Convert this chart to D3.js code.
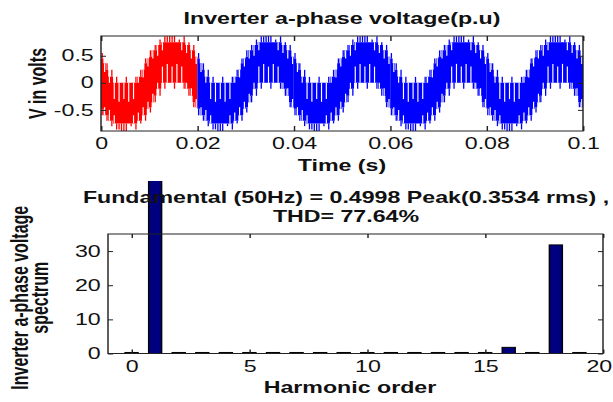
<!DOCTYPE html>
<html><head><meta charset="utf-8">
<script src="https://cdn.jsdelivr.net/npm/d3@7"></script>
<style>
html,body{margin:0;padding:0;background:#fff;}
svg{display:block;}
text{font-family:"Liberation Sans",Arial,sans-serif;fill:#111;}
</style></head>
<body>
<svg id="c" width="613" height="402"></svg>
<script>
// ---------------- data ----------------
// Top panel: one 20 ms cycle of the multilevel PWM waveform, read in 0.5 ms steps
const stepMs = 0.5;
const cycleMs = 20;
const cycleCount = 5;
const cycleColors = ["#ff0000", "#0000ff", "#0000ff", "#0000ff", "#0000ff"];
const upperEnv = [0.45,0.36,0.24,0.11,0.11,0,0,0,0,0,0,0,0,0,0,0.11,0.11,0.24,0.36,0.45,
                  0.48,0.6,0.6,0.7,0.7,0.75,0.75,0.75,0.75,0.75,0.75,0.75,0.75,0.75,0.75,0.7,0.7,0.6,0.6,0.48];
const lowerEnv = [-0.48,-0.6,-0.6,-0.7,-0.7,-0.75,-0.75,-0.75,-0.75,-0.75,-0.75,-0.75,-0.75,-0.75,-0.75,-0.7,-0.7,-0.6,-0.6,-0.48,
                  -0.45,-0.36,-0.24,-0.11,-0.11,0,0,0,0,0,0,0,0,0,0,-0.11,-0.11,-0.24,-0.36,-0.45];
const spikeHigh = [0.55,null,0.36,null,0.24,null,0.11,null,null,null,0.11,null,null,null,0.11,null,0.24,null,0.45,null,
                   0.6,null,0.7,null,0.8,null,0.86,0.86,0.92,0.92,0.92,null,0.8,null,0.86,null,0.75,null,0.7,null];
const spikeLow = [-0.6,null,-0.7,null,-0.8,null,-0.86,-0.86,-0.92,-0.92,-0.92,null,-0.8,null,-0.86,null,-0.75,null,-0.7,null,
                  -0.55,null,-0.36,null,-0.24,null,-0.11,null,null,null,-0.11,null,null,null,-0.11,null,-0.24,null,-0.45,null];
const notchDown = [null,0.2,null,0,null,-0.3,null,-0.35,null,-0.3,null,-0.35,null,-0.3,null,0,null,0.1,null,0.3,
                   null,0.45,null,0.5,null,0.6,null,null,null,null,null,null,null,0.6,null,0.55,null,0.45,null,0.35];
const notchUp = [null,-0.45,null,-0.5,null,-0.6,null,null,null,null,null,null,null,-0.6,null,-0.55,null,-0.45,null,-0.35,
                 null,-0.2,null,0,null,0.3,null,0.35,null,0.3,null,0.35,null,0.3,null,0,null,-0.1,null,-0.3];
const timeTicks = [0, 0.02, 0.04, 0.06, 0.08, 0.1];
const timeTickLabels = ["0", "0.02", "0.04", "0.06", "0.08", "0.1"];
const voltTicks = [-0.5, 0, 0.5];
const voltTickLabels = ["-0.5", "0", "0.5"];

// Bottom panel: harmonic spectrum (% of fundamental)
const harmonicOrder = [0,1,2,3,4,5,6,7,8,9,10,11,12,13,14,15,16,17,18,19];
const harmonicMag = [0.3,100,0.3,0.3,0.3,0.3,0.3,0.3,0.3,0.3,0.3,0.3,0.3,0.3,0.3,0.3,1.8,0.3,31.8,0.3];
const harmTicks = [0, 5, 10, 15, 20];
const specTicks = [0, 10, 20, 30];
const fundamentalVisibleTop = 50.5;

const topTitle = "Inverter a-phase voltage(p.u)";
const topYLabel = "V in volts";
const topXLabel = "Time (s)";
const botTitle = ["Fundamental (50Hz) = 0.4998 Peak(0.3534 rms) ,", "THD= 77.64%"];
const botYLabel = ["Inverter a-phase voltage", "spectrum"];
const botXLabel = "Harmonic order";

// ---------------- layout ----------------
const S = 1.45; // horizontal stretch of the whole figure
const svg = d3.select("#c");
const g = svg.append("g").attr("transform", `scale(${S},1)`);

const xT = d3.scaleLinear().domain([0, 0.1]).range([101 / S, 583 / S]);
const yV = d3.scaleLinear().domain([-0.89, 0.865]).range([131, 36]);
const xH = d3.scaleLinear().domain([-1, 20]).range([108 / S, 603 / S]);
const yH = d3.scaleLinear().domain([0, 35]).range([353.5, 234]);

const FS = 16;
function styleAxis(sel) {
  sel.select(".domain").remove();
  sel.selectAll(".tick line").attr("stroke", "#222").attr("stroke-width", 1);
  sel.selectAll("text").attr("font-size", FS).attr("fill", "#111")
     .attr("font-family", '"Liberation Sans",Arial,sans-serif');
}

// ---------- top panel ----------
const defs = svg.append("defs");
defs.append("clipPath").attr("id", "clipTop").append("rect")
  .attr("x", xT(0)).attr("y", yV(0.865)).attr("width", xT(0.1) - xT(0)).attr("height", yV(-0.89) - yV(0.865));

const wave = g.append("g").attr("clip-path", "url(#clipTop)");
const stepS = stepMs / 1000;
for (let p = 0; p < cycleCount; p++) {
  const col = cycleColors[p];
  const base = p * cycleMs / 1000;
  const pts = upperEnv.map((u, k) => ({t: base + k * stepS, u, l: lowerEnv[k]}));
  pts.push({t: base + cycleMs / 1000, u: upperEnv[upperEnv.length - 1], l: lowerEnv[lowerEnv.length - 1]});
  const area = d3.area().curve(d3.curveStepAfter)
    .x(d => xT(d.t)).y0(d => yV(d.l)).y1(d => yV(d.u));
  wave.append("path").attr("d", area(pts)).attr("fill", col).attr("stroke", "none");
  upperEnv.forEach((u, k) => {
    const tc = base + (k + 0.5) * stepS;
    const x = xT(tc);
    if (notchDown[k] !== null) wave.append("line").attr("x1", x).attr("x2", x)
      .attr("y1", yV(u)).attr("y2", yV(notchDown[k])).attr("stroke", "#fff").attr("stroke-width", 0.8);
    if (notchUp[k] !== null) wave.append("line").attr("x1", x).attr("x2", x)
      .attr("y1", yV(lowerEnv[k])).attr("y2", yV(notchUp[k])).attr("stroke", "#fff").attr("stroke-width", 0.8);
    if (spikeHigh[k] !== null) wave.append("line").attr("x1", x).attr("x2", x)
      .attr("y1", yV(u)).attr("y2", yV(spikeHigh[k])).attr("stroke", col).attr("stroke-width", 0.9);
    if (spikeLow[k] !== null) wave.append("line").attr("x1", x).attr("x2", x)
      .attr("y1", yV(lowerEnv[k])).attr("y2", yV(spikeLow[k])).attr("stroke", col).attr("stroke-width", 0.9);
  });
}

// axes top panel
const axB = g.append("g").attr("transform", `translate(0,${yV(-0.89)})`)
  .call(d3.axisBottom(xT).tickValues(timeTicks).tickFormat((d, i) => timeTickLabels[i]).tickSizeInner(-5).tickSizeOuter(0).tickPadding(7));
styleAxis(axB);
const axT = g.append("g").attr("transform", `translate(0,${yV(0.865)})`)
  .call(d3.axisTop(xT).tickValues(timeTicks).tickFormat("").tickSizeInner(-5).tickSizeOuter(0));
styleAxis(axT);
const axL = g.append("g").attr("transform", `translate(${xT(0)},0)`)
  .call(d3.axisLeft(yV).tickValues(voltTicks).tickFormat((d, i) => voltTickLabels[i]).tickSizeInner(-5 / S).tickSizeOuter(0).tickPadding(5));
styleAxis(axL);
const axR = g.append("g").attr("transform", `translate(${xT(0.1)},0)`)
  .call(d3.axisRight(yV).tickValues(voltTicks).tickFormat("").tickSizeInner(-5 / S).tickSizeOuter(0));
styleAxis(axR);
g.append("rect").attr("x", xT(0)).attr("y", yV(0.865)).attr("width", xT(0.1) - xT(0)).attr("height", yV(-0.89) - yV(0.865))
  .attr("fill", "none").attr("stroke", "#222").attr("stroke-width", 1);

g.append("text").attr("x", (xT(0) + xT(0.1)) / 2).attr("y", 24).attr("text-anchor", "middle")
  .attr("font-size", FS).attr("font-weight", "bold").text(topTitle);
g.append("text").attr("x", (xT(0) + xT(0.1)) / 2).attr("y", 171).attr("text-anchor", "middle")
  .attr("font-size", FS).attr("font-weight", "bold").text(topXLabel);
g.append("text").attr("transform", `translate(${46 / S},${(yV(0.865) + yV(-0.89)) / 2}) rotate(-90)`)
  .attr("text-anchor", "middle").attr("font-size", FS).attr("font-weight", "bold").text(topYLabel);

// ---------- bottom panel ----------
defs.append("clipPath").attr("id", "clipBars").append("rect")
  .attr("x", 0).attr("y", yH(fundamentalVisibleTop)).attr("width", 613).attr("height", yH(0) - yH(fundamentalVisibleTop) + 2);

const barW = 0.55;
g.append("g").attr("clip-path", "url(#clipBars)").selectAll("rect")
  .data(harmonicOrder.map((h, i) => ({h, v: harmonicMag[i]})))
  .join("rect")
  .attr("x", d => xH(d.h - barW / 2)).attr("width", d => xH(d.h + barW / 2) - xH(d.h - barW / 2))
  .attr("y", d => yH(d.v)).attr("height", d => yH(0) - yH(d.v))
  .attr("fill", "#00007f").attr("stroke", "#000").attr("stroke-width", 1);

const bB = g.append("g").attr("transform", `translate(0,${yH(0)})`)
  .call(d3.axisBottom(xH).tickValues(harmTicks).tickSizeInner(-4).tickSizeOuter(0).tickPadding(7));
styleAxis(bB);
bB.selectAll(".tick text").filter(d => d === harmTicks[harmTicks.length - 1]).attr("dx", -3);
const bT = g.append("g").attr("transform", `translate(0,${yH(35)})`)
  .call(d3.axisTop(xH).tickValues(harmTicks).tickFormat("").tickSizeInner(-4).tickSizeOuter(0));
styleAxis(bT);
const bL = g.append("g").attr("transform", `translate(${xH(-1)},0)`)
  .call(d3.axisLeft(yH).tickValues(specTicks).tickSizeInner(-5 / S).tickSizeOuter(0).tickPadding(5));
styleAxis(bL);
const bR = g.append("g").attr("transform", `translate(${xH(20)},0)`)
  .call(d3.axisRight(yH).tickValues(specTicks).tickFormat("").tickSizeInner(-5 / S).tickSizeOuter(0));
styleAxis(bR);
g.append("rect").attr("x", xH(-1)).attr("y", yH(35)).attr("width", xH(20) - xH(-1)).attr("height", yH(0) - yH(35))
  .attr("fill", "none").attr("stroke", "#222").attr("stroke-width", 1);

const cxTitle = 346 / S;
botTitle.forEach((t, i) => g.append("text").attr("x", cxTitle).attr("y", 203 + i * 19).attr("text-anchor", "middle")
  .attr("font-size", FS).attr("font-weight", "bold").text(t));
g.append("text").attr("x", 350 / S).attr("y", 393).attr("text-anchor", "middle")
  .attr("font-size", FS).attr("font-weight", "bold").text(botXLabel);
botYLabel.forEach((t, i) => g.append("text")
  .attr("transform", `translate(${(28 + i * 20) / S},${(yH(0) + yH(35)) / 2 + 4}) rotate(-90)`)
  .attr("text-anchor", "middle").attr("font-size", FS).attr("font-weight", "bold").text(t));
</script>
</body></html>
